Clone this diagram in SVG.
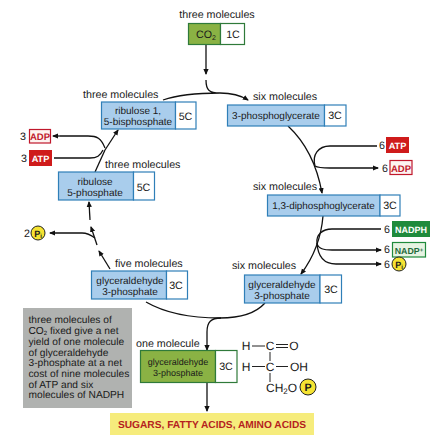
<svg xmlns="http://www.w3.org/2000/svg" width="439" height="444" viewBox="0 0 439 444">
<style>
text{font-family:"Liberation Sans",Arial,sans-serif;font-size:10.7px;fill:#1a1a1a;text-rendering:geometricPrecision}
.m{text-anchor:middle}
.s{font-size:10px}
.n{font-size:10.200px}
.blue{fill:#a9cdec;stroke:#2f7fb8;stroke-width:1.2}
.wb{fill:#fff;stroke:#2f7fb8;stroke-width:1.2}
.grn{fill:#8ab244;stroke:#2f7a3a;stroke-width:1.2}
.wg{fill:#fff;stroke:#2f7a3a;stroke-width:1.2}
.c{fill:none;stroke:#111;stroke-width:1.3}
.a{marker-end:url(#ah)}
.pi{fill:#f5e332;stroke:#222;stroke-width:1}
.w{fill:#fff;font-weight:bold;font-size:9.200px}
.r{fill:#c0182c;font-weight:bold;font-size:9.500px}
.b{stroke:#222;stroke-width:1}
.f{font-size:12px}
</style>
<defs>
<marker id="ah" markerWidth="6" markerHeight="6" refX="5" refY="3" orient="auto" markerUnits="userSpaceOnUse"><path d="M0 0.4L6 3L0 5.6Z" fill="#111"/></marker>
</defs>
<g id="connectors">
<path class="c a" d="M206 44V74"/>
<path class="c" d="M206 80C206 90 209 93 220 93C198 93 180 94 163 100"/>
<path class="c a" d="M220 93C232 93 240 95 248 100"/>
<path class="c a" d="M105 150L118 130"/>
<path class="c" d="M95 172L105 150"/>
<path class="c" d="M105 148C101 138 97 136 88 136H60"/>
<path class="c a" d="M60 136H53"/>
<path class="c" d="M54 158H90C97 158 100 156 103 150"/>
<path class="c a" d="M90 220L89 202"/>
<path class="c a" d="M97 245L91 227"/>
<path class="c a" d="M110 269L99 251"/>
<path class="c a" d="M95 238C91 235 88 233 82 233H50"/>
<path class="c a" d="M288 126C302 139 316 160 322 193"/>
<path class="c" d="M315 166C312 155 318 146 330 146H377"/>
<path class="c a" d="M315 166C318 168 322 168 330 168H378"/>
<path class="c a" d="M323 216C321 240 313 258 301 274"/>
<path class="c" d="M317 243C316 235 322 229 332 229H381"/>
<path class="c a" d="M317 243C318 249 324 250 332 250H381"/>
<path class="c a" d="M317 243C318 259 326 264 336 264H381"/>
<path class="c" d="M146 302C165 313 190 318 220 318C240 318 256 313 265 303"/>
<path class="c a" d="M221 318C211 318 207 322 207 332V350"/>
<path class="c a" d="M207 382V411"/>
</g>
<g id="co2">
<text class="m" x="217" y="18">three molecules</text>
<rect class="grn" x="188.500" y="23.500" width="32" height="21"/><rect class="wg" x="220.500" y="23.500" width="24" height="21"/>
<text class="m" x="206" y="38">CO<tspan style="font-size:7px" dy="2">2</tspan></text><text class="m" x="233" y="38">1C</text>
</g>
<g id="rubp">
<text x="83" y="98">three molecules</text>
<rect class="blue" x="101.500" y="102" width="74" height="27"/><rect class="wb" x="175.500" y="102" width="20.500" height="27"/>
<text class="m s" x="138" y="114">ribulose 1,</text><text class="m s" x="138" y="125">5-bisphosphate</text><text class="m" x="185.500" y="120">5C</text>
</g>
<g id="pga3">
<text x="253" y="100">six molecules</text>
<rect class="blue" x="227.500" y="105" width="97" height="21"/><rect class="wb" x="324.500" y="105" width="21.500" height="21"/>
<text class="m s" x="276" y="119">3-phosphoglycerate</text><text class="m" x="335" y="119">3C</text>
</g>
<g id="adp-left"><text x="20" y="140">3</text><rect x="29.500" y="129.500" width="21" height="13.500" fill="#fdf3f0" stroke="#c0182c" stroke-width="1.200"/><text class="m r" x="40" y="140">ADP</text></g>
<g id="atp-left"><text x="21" y="162">3</text><rect x="29" y="150" width="23" height="16" fill="#cf1b1b"/><text class="m w" x="40.500" y="162">ATP</text></g>
<g id="ru5p">
<text x="105" y="168">three molecules</text>
<rect class="blue" x="58.500" y="172" width="75" height="28"/><rect class="wb" x="133.500" y="172" width="21" height="28"/>
<text class="m s" x="95" y="185">ribulose</text><text class="m s" x="95" y="196">5-phosphate</text><text class="m" x="143.500" y="191">5C</text>
</g>
<g id="pi-left"><text x="24" y="237">2</text><circle class="pi" cx="38" cy="233" r="7"/><text class="m" x="38" y="237" font-weight="bold" style="font-size:9px">P<tspan style="font-size:6px" dy="1">i</tspan></text></g>
<g id="atp-right"><text x="379" y="149">6</text><rect x="386" y="137" width="23" height="16" fill="#cf1b1b"/><text class="m w" x="397.500" y="149">ATP</text></g>
<g id="adp-right"><text x="382" y="172">6</text><rect x="390" y="160.500" width="22" height="14" fill="#fdf3f0" stroke="#c0182c" stroke-width="1.200"/><text class="m r" x="401" y="171.500">ADP</text></g>
<g id="dpg13">
<text x="253" y="190">six molecules</text>
<rect class="blue" x="267.500" y="195" width="112.500" height="21"/><rect class="wb" x="380" y="195" width="20" height="21"/>
<text class="m" x="323.500" y="209" style="font-size:9.900px">1,3-diphosphoglycerate</text><text class="m" x="390" y="209">3C</text>
</g>
<g id="nadph"><text x="384" y="233">6</text><rect x="392" y="221" width="38" height="16" fill="#1f8a3c"/><text class="m w" x="411" y="232.500" style="font-size:9px">NADPH</text></g>
<g id="nadp"><text x="384" y="253">6</text><rect x="392.500" y="242.500" width="33" height="14.500" fill="#e6f3e2" stroke="#1f8a3c" stroke-width="1.200"/><text class="m" x="409" y="253.500" font-weight="bold" style="fill:#1f6a3c;font-size:8.800px">NADP<tspan style="font-size:6px" dy="-2">+</tspan></text></g>
<g id="pi-right"><text x="384" y="268">6</text><circle class="pi" cx="399" cy="264" r="7"/><text class="m" x="399" y="268" font-weight="bold" style="font-size:9px">P<tspan style="font-size:6px" dy="1">i</tspan></text></g>
<g id="g3p-left">
<text x="115" y="267">five molecules</text>
<rect class="blue" x="91.500" y="271" width="75" height="28"/><rect class="wb" x="166.500" y="271" width="21" height="28"/>
<text class="m s" x="130" y="284">glyceraldehyde</text><text class="m s" x="130" y="295">3-phosphate</text><text class="m" x="176" y="289">3C</text>
</g>
<g id="g3p-right">
<text x="232" y="269">six molecules</text>
<rect class="blue" x="244.500" y="275" width="75.500" height="28"/><rect class="wb" x="320" y="275" width="21.500" height="28"/>
<text class="m s" x="282" y="288">glyceraldehyde</text><text class="m s" x="282" y="299">3-phosphate</text><text class="m" x="331" y="293">3C</text>
</g>
<g id="note">
<rect x="23" y="308" width="109" height="100" fill="#b0b2b0"/>
<text class="n" x="28.500" y="323">three molecules of</text>
<text class="n" x="28.500" y="334">CO<tspan style="font-size:6px" dy="1">2</tspan><tspan dy="-1"> fixed give a net</tspan></text>
<text class="n" x="28.500" y="345">yield of one molecule</text>
<text class="n" x="28.500" y="355.500">of glyceraldehyde</text>
<text class="n" x="28.500" y="366">3-phosphate at a net</text>
<text class="n" x="28.500" y="377">cost of nine molecules</text>
<text class="n" x="28.500" y="387.500">of ATP and six</text>
<text class="n" x="28.500" y="398">molecules of NADPH</text>
</g>
<g id="g3p-out">
<text x="136" y="347">one molecule</text>
<rect class="grn" x="140.500" y="350.500" width="75" height="32"/><rect class="wg" x="215.500" y="350.500" width="21.500" height="32"/>
<text class="m" x="178" y="365" style="font-size:9px">glyceraldehyde</text><text class="m" x="178" y="375.500" style="font-size:9px">3-phosphate</text><text class="m" x="226" y="370">3C</text>
</g>
<g id="formula">
<text class="m f" x="246" y="350">H</text><line class="b" x1="252" y1="346" x2="265" y2="346"/>
<text class="m f" x="270" y="350">C</text><path class="b" d="M276 344.500H288M276 347.500H288" fill="none"/>
<text class="m f" x="294" y="350">O</text>
<line class="b" x1="270" y1="352" x2="270" y2="361"/>
<text class="m f" x="246" y="371">H</text><line class="b" x1="252" y1="366.500" x2="265" y2="366.500"/>
<text class="m f" x="270" y="371">C</text><line class="b" x1="276" y1="366.500" x2="288" y2="366.500"/>
<text class="f" x="290" y="371">OH</text>
<line class="b" x1="270" y1="373" x2="270" y2="382"/>
<text class="f" x="266" y="392">CH<tspan style="font-size:8px" dy="2">2</tspan><tspan dy="-2">O</tspan></text>
<circle class="pi" cx="308" cy="387" r="8"/><text class="m" x="308" y="391" font-weight="bold">P</text>
</g>
<g id="products">
<rect x="110" y="413" width="204" height="22" fill="#f6ec7c"/>
<text class="m" x="212" y="428" font-weight="bold" style="fill:#b51f1f;font-size:10.200px">SUGARS, FATTY ACIDS, AMINO ACIDS</text>
</g>
</svg>
